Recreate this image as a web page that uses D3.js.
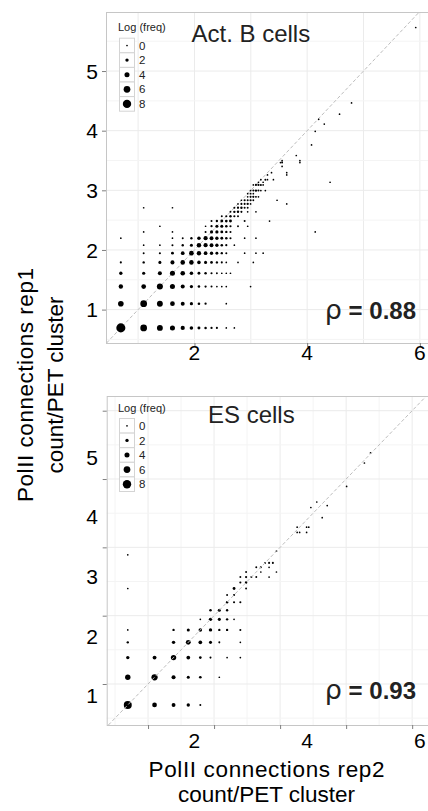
<!DOCTYPE html>
<html>
<head>
<meta charset="utf-8">
<script src="https://cdn.jsdelivr.net/npm/d3@7"></script>
<style>
  body { margin: 0; background: #fff; }
  svg { display: block; font-family: "Liberation Sans", Arial, Helvetica, sans-serif; }
</style>
</head>
<body>
<svg id="chart" width="428" height="811"></svg>
<script>
// PET counts per cluster: [rep2 count, rep1 count, log(freq)], one line per rep1 count
let actPoints = [
  [2,2,8.8],[3,2,6],[4,2,5],[5,2,4],[6,2,3],[7,2,2.2],[8,2,1.5],[9,2,1],[10,2,0.7],[11,2,0.5],[13,2,0],[15,2,0],
  [2,3,4.7],[3,3,6],[4,3,5],[5,3,3.6],[6,3,2.7],[7,3,1.8],[8,3,1.1],[9,3,0.7],[13,3,0],
  [2,4,3.2],[3,4,3.6],[4,4,5.2],[5,4,4],[6,4,2.8],[7,4,1.8],[8,4,1.1],[9,4,0.7],[10,4,0.4],[11,4,0],[12,4,0],[13,4,0],[20,4,0],
  [2,5,2],[3,5,1.8],[4,5,2.8],[5,5,4],[6,5,3.4],[7,5,2.2],[8,5,1.4],[9,5,1],[10,5,0.5],[11,5,0.2],[12,5,0],[13,5,0],[14,5,0],
  [2,6,0.5],[3,6,0.8],[4,6,1.6],[5,6,2.8],[6,6,3.4],[7,6,3.4],[8,6,2.2],[9,6,1.6],[10,6,1.2],[11,6,0.8],[12,6,0.4],[13,6,0],[16,6,0],[21,6,0],
  [3,7,0.3],[4,7,0.5],[5,7,1.4],[6,7,2.4],[7,7,3.6],[8,7,3.2],[9,7,2.4],[10,7,2],[11,7,1.5],[12,7,0.8],[13,7,0.4],[18,7,0],[22,7,0],[25,7,0],
  [3,8,0],[4,8,0],[5,8,0.4],[6,8,0.8],[7,8,1.6],[8,8,3.4],[9,8,3],[10,8,2.6],[11,8,2],[12,8,1],[13,8,0.6],[15,8,0],
  [2,9,0],[5,9,0],[6,9,0.3],[7,9,0.8],[8,9,2.2],[9,9,3],[10,9,2.6],[11,9,2],[12,9,1.4],[13,9,1],[14,9,0.5],[18,9,0],[22,9,0],
  [3,10,0],[5,10,0],[9,10,0.4],[10,10,1.8],[11,10,1.8],[12,10,1.4],[13,10,0.8],[14,10,0.4],[63,10,0],
  [4,11,0],[9,11,0],[10,11,0.7],[11,11,1.6],[12,11,1.6],[13,11,1],[14,11,0.6],[16,11,0.2],[19,11,0],
  [10,12,0.4],[11,12,0.8],[12,12,1.4],[13,12,1.2],[14,12,1.5],[18,12,0.3],[28,12,0],
  [12,13,0.3],[13,13,0.6],[14,13,0.9],[15,13,0.6],[16,13,0.3],
  [14,14,0.3],[15,14,0.8],[16,14,0.9],[17,14,0.5],[19,14,0],[22,14,0],
  [3,15,0],[5,15,0],[15,15,0.4],[16,15,0.7],[17,15,0.9],[18,15,0.4],[19,15,0.2],
  [16,16,0],[17,16,0.5],[18,16,0.4],[19,16,0.7],[20,16,0],[38,16,0],
  [17,17,0],[18,17,0.5],[19,17,0.3],[20,17,0.6],[21,17,0.2],[32,17,0],
  [19,18,0],[20,18,0.4],[21,18,0.6],[22,18,0.3],[23,18,0],
  [19,19,0],[20,19,0.3],[21,19,0],
  [20,20,0.2],[21,20,0.4],[22,20,0.8],[23,20,0.3],[24,20,0],[26,20,0],
  [21,22,0],[22,22,0.5],[23,22,0.6],[24,22,0.4],[25,22,0],
  [23,23,0],[25,23,0],[82,23,0],
  [24,24,0],[26,24,0.3],[27,24,0],[30,24,0],
  [27,26,0],[38,26,0],
  [29,27,0],[38,27,0],
  [35,30,0],
  [34,32,0],[35,32,0.3],[48,32,0],
  [35,33,0],[48,33,0],
  [45,36,0],[59,43,0],[63,54,0],[74,61,0],[67,66,0],[97,72,0],[120,87,0],[375,308,0]
]

let esPoints = [
  [2,2,7.5],[3,2,3.6],[4,2,2.6],[5,2,2],[6,2,0.4],
  [2,3,4.4],[3,3,5.4],[4,3,2.8],[5,3,1.6],[6,3,1.2],[8,3,0],
  [2,4,2],[3,4,2.6],[4,4,4.4],[5,4,2.4],[6,4,1.2],[7,4,0.4],[9,4,0],[11,4,0],
  [2,5,0.8],[4,5,2],[5,5,3.8],[6,5,2.4],[7,5,1.6],[8,5,0.4],[11,5,0],
  [2,6,0],[4,6,0.8],[5,6,1.6],[6,6,2.2],[7,6,2],[8,6,0.8],[9,6,0.8],[11,6,0.4],
  [6,7,0],[7,7,2],[8,7,1.6],[9,7,0.8],[10,7,0],
  [7,8,1],[8,8,1.6],[9,8,0.8],
  [9,9,0.8],[10,9,0.5],[11,9,0.5],
  [9,10,0.3],[10,10,0.6],
  [2,11,0],[10,11,1.4],[12,11,0.3],
  [11,12,0.5],[12,12,0.8],
  [11,13,0.3],[12,13,0.6],[13,13,0.3],[14,13,0.3],[17,13,0],
  [12,14,0.3],[15,14,0],[19,14,0],
  [14,15,0.3],[15,15,0.5],[17,15,0],
  [16,16,0.3],[17,16,0.4],[18,16,0.4],
  [2,18,0],[19,19,0],
  [26,25,0],[27,25,0],[30,25,0],
  [26,27,0],[30,27,0],[31,27,0],
  [38,31,0],[32,36,0],[41,37,0],[35,39,0],[55,49,0],[72,69,0],[79,80,0]
]

let xTickLabels = [2, 4, 6]
let yTickLabels = [1, 2, 3, 4, 5]
let legendValues = [0, 2, 4, 6, 8]
let rhoValues = ['0.88', '0.93']
let panelTitles = ['Act. B cells', 'ES cells']

let svg = d3.select('#chart')
let rScale = d3.scaleLinear().domain([0, 8]).range([0.85, 4.2])

// top panel scales; its tick labels were reused for the lower panel
let actX = d3.scaleLinear().domain([0.43, 6.18]).range([106, 430])
let actY = d3.scaleLinear().domain([0.44, 5.99]).range([343, 12])

let panels = [
  {
    points: actPoints, title: panelTitles[0], rho: rhoValues[0],
    x: actX, y: actY,
    xGrid: d3.range(1, 6.5, 1), yGrid: d3.range(0.5, 6, 0.5),
    xTicks: [2, 4, 6],
    labelY: actY, xLabelBase: 360,
    titleX: 191.5, titleBase: 41.5, rhoBase: 318.5,
    legendTop: 37.7, legendTitleBase: 30.5,
    lineOnTop: false
  },
  {
    points: esPoints, title: panelTitles[1], rho: rhoValues[1],
    x: d3.scaleLinear().domain([0.374, 5.27]).range([106.7, 430]),
    y: d3.scaleLinear().domain([0.40, 5.215]).range([725, 396]),
    xGrid: d3.range(0.5, 5.5, 0.5), yGrid: d3.range(0.5, 5.5, 0.5),
    xTicks: [1, 2, 3, 4, 5],
    labelY: actY.copy().range([343 + 386, 12 + 386]), xLabelBase: 748,
    titleX: 208, titleBase: 423.3, rhoBase: 698.5,
    legendTop: 418, legendTitleBase: 412,
    lineOnTop: true
  }
]

let drawPanel = (p) => {
  let [x0, x1] = p.x.range()
  let [y1, y0] = p.y.range()
  let g = svg.append('g')

  g.append('rect')
    .attr('x', x0).attr('y', y0)
    .attr('width', x1 - x0).attr('height', y1 - y0)
    .attr('fill', '#fff')

  // grid
  g.selectAll('.vgrid')
    .data(p.xGrid)
    .enter()
    .append('line')
    .attr('x1', d => p.x(d)).attr('x2', d => p.x(d))
    .attr('y1', y0).attr('y2', y1)
    .attr('stroke', d => Number.isInteger(d) ? '#ebebeb' : '#f4f4f4')
  g.selectAll('.hgrid')
    .data(p.yGrid)
    .enter()
    .append('line')
    .attr('y1', d => p.y(d)).attr('y2', d => p.y(d))
    .attr('x1', x0).attr('x2', x1)
    .attr('stroke', d => Number.isInteger(d) ? '#ebebeb' : '#f4f4f4')

  let diag = () => {
    let lo = Math.max(p.x.domain()[0], p.y.domain()[0])
    let hi = Math.min(p.x.domain()[1], p.y.domain()[1])
    g.append('line')
      .attr('x1', p.x(lo)).attr('y1', p.y(lo))
      .attr('x2', p.x(hi)).attr('y2', p.y(hi))
      .attr('stroke', '#bdbdbd')
      .attr('stroke-width', 1)
      .attr('stroke-dasharray', '3.5,2.2')
  }

  if (!p.lineOnTop) diag()

  g.selectAll('circle.pt')
    .data(p.points)
    .enter()
    .append('circle')
    .attr('class', 'pt')
    .attr('cx', d => p.x(Math.log(d[0])))
    .attr('cy', d => p.y(Math.log(d[1])))
    .attr('r', d => rScale(d[2]))
    .attr('fill', '#000')

  if (p.lineOnTop) diag()

  // border
  g.append('rect')
    .attr('x', x0 + 0.5).attr('y', y0 + 0.5)
    .attr('width', x1 - x0).attr('height', y1 - y0)
    .attr('fill', 'none')
    .attr('stroke', '#c6c6c6')

  // tick marks
  let xAxis = g.append('g')
    .attr('transform', `translate(0,${y1})`)
    .call(d3.axisBottom(p.x).tickValues(p.xTicks).tickSize(4).tickFormat(''))
  let yAxis = g.append('g')
    .attr('transform', `translate(${x0},0)`)
    .call(d3.axisLeft(p.y).tickValues(yTickLabels).tickSize(4).tickFormat(''))
  ;[xAxis, yAxis].forEach(a => {
    a.select('.domain').remove()
    a.selectAll('line').attr('stroke', '#7f7f7f')
  })

  // tick labels
  g.selectAll('.xlab')
    .data(xTickLabels)
    .enter()
    .append('text')
    .attr('x', d => actX(d))
    .attr('y', p.xLabelBase)
    .attr('text-anchor', 'middle')
    .attr('font-size', 21)
    .text(d => d)
  g.selectAll('.ylab')
    .data(yTickLabels)
    .enter()
    .append('text')
    .attr('x', 98)
    .attr('y', d => p.labelY(d))
    .attr('dy', '0.36em')
    .attr('text-anchor', 'end')
    .attr('font-size', 21)
    .text(d => d)

  // title
  g.append('text')
    .attr('x', p.titleX).attr('y', p.titleBase)
    .attr('font-size', 24)
    .attr('fill', '#222')
    .text(p.title)

  // rho
  let rho = g.append('text')
    .attr('x', 416).attr('y', p.rhoBase)
    .attr('text-anchor', 'end')
    .attr('font-size', 24)
    .attr('fill', '#222')
  rho.append('tspan').attr('font-family', 'DejaVu Sans').attr('font-size', 27).text('ρ')
  rho.append('tspan').attr('font-weight', 'bold').text(' = ' + p.rho)

  // legend
  let lg = g.append('g')
  lg.append('text')
    .attr('x', 118).attr('y', p.legendTitleBase)
    .attr('font-size', 11)
    .attr('fill', '#222')
    .text('Log (freq)')
  let key = lg.selectAll('.key')
    .data(legendValues)
    .enter()
    .append('g')
    .attr('transform', (d, i) => `translate(119,${p.legendTop + i * 14.6})`)
  key.append('rect')
    .attr('x', 0.5).attr('y', 0.5)
    .attr('width', 15).attr('height', 14.6)
    .attr('fill', '#fff')
    .attr('stroke', '#d4d4d4')
  key.append('circle')
    .attr('cx', 8).attr('cy', 7.8)
    .attr('r', d => rScale(d))
    .attr('fill', '#000')
  key.append('text')
    .attr('x', 20).attr('y', 7.8)
    .attr('dy', '0.36em')
    .attr('font-size', 11.5)
    .attr('fill', '#222')
    .text(d => d)
}

panels.forEach(drawPanel)

// axis titles
let yTitle = svg.append('text')
  .attr('transform', 'translate(0,385) rotate(-90)')
  .attr('text-anchor', 'middle')
  .attr('font-size', 22.5)
yTitle.append('tspan').attr('x', 0).attr('y', 32.5)
  .attr('textLength', 234).attr('lengthAdjust', 'spacing')
  .text('PolII connections rep1')
yTitle.append('tspan').attr('x', 0).attr('y', 62.5)
  .attr('textLength', 177).attr('lengthAdjust', 'spacing')
  .text('count/PET cluster')

let xTitle = svg.append('text')
  .attr('text-anchor', 'middle')
  .attr('font-size', 22.5)
xTitle.append('tspan').attr('x', 266.5).attr('y', 776.7)
  .attr('textLength', 236).attr('lengthAdjust', 'spacing')
  .text('PolII connections rep2')
xTitle.append('tspan').attr('x', 266.5).attr('y', 801.7)
  .attr('textLength', 177).attr('lengthAdjust', 'spacing')
  .text('count/PET cluster')
</script>
</body>
</html>
